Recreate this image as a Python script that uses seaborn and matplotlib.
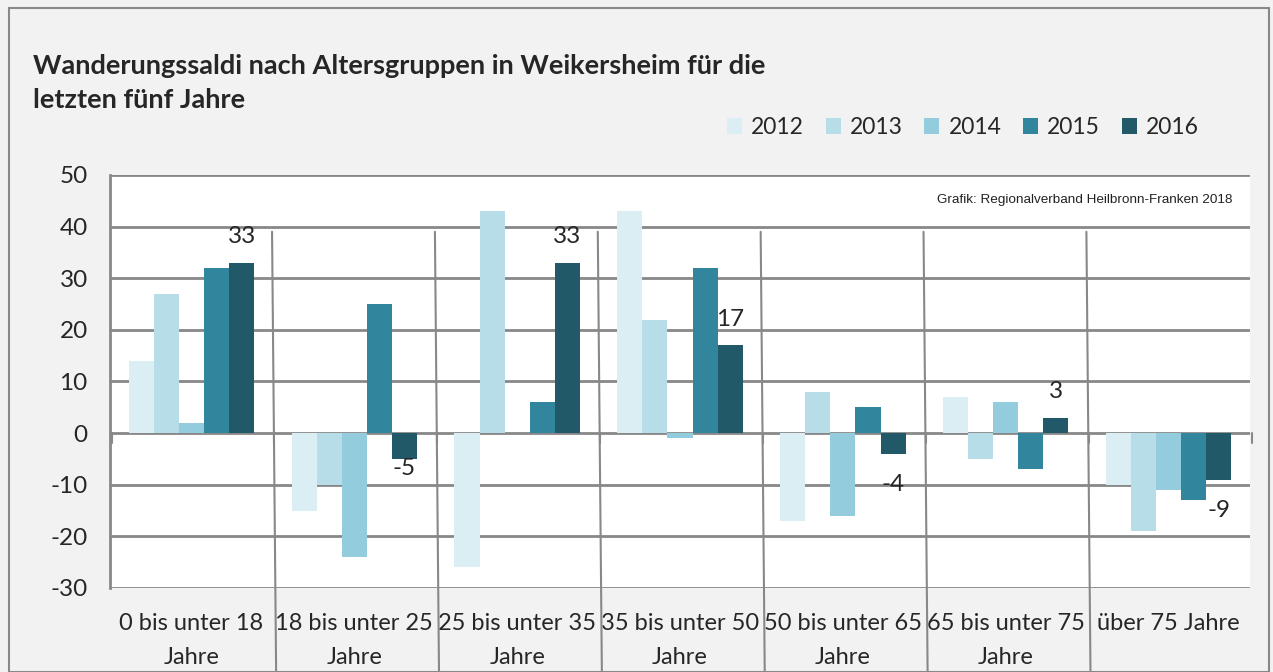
import pandas as pd
import numpy as np
import matplotlib
matplotlib.use("Agg")
import matplotlib.pyplot as plt
import seaborn as sns
from matplotlib.patches import Rectangle, Patch

# data
groups = ["0 bis unter 18\nJahre", "18 bis unter 25\nJahre", "25 bis unter 35\nJahre",
          "35 bis unter 50\nJahre", "50 bis unter 65\nJahre", "65 bis unter 75\nJahre",
          "über 75 Jahre"]
years = ["2012", "2013", "2014", "2015", "2016"]
v2012 = [14, -15, -26, 43, -17, 7, -10]
v2013 = [27, -10, 43, 22, 8, -5, -19]
v2014 = [2, -24, 0, -1, -16, 6, -11]
v2015 = [32, 25, 6, 32, 5, -7, -13]
v2016 = [33, -5, 33, 17, -4, 3, -9]
colors = ["#dbeef4", "#b7dde8", "#93cddd", "#31859c", "#215968"]
# vertical offset (px) of the 2016 value labels from the bar end
label_dy = [26, -10, 26, 26, -31, 26, -31]

rows = []
for year, vals in zip(years, [v2012, v2013, v2014, v2015, v2016]):
    for g, v in zip(groups, vals):
        rows.append({"group": g, "year": year, "value": v})
df = pd.DataFrame(rows)

sns.set_style("white")
plt.rcParams["font.family"] = ["Lato", "DejaVu Sans"]
plt.rcParams["axes.unicode_minus"] = False

fig = plt.figure(figsize=(12.73, 6.72), dpi=100, facecolor="#f2f2f2")
ax = fig.add_axes([0.0864, 0.125, 0.8956, 0.6146])
ax.set_facecolor("white")

sns.barplot(data=df, x="group", y="value", hue="year", palette=colors,
            width=0.77, saturation=1, ax=ax, legend=False, edgecolor="none")

grey = "#888888"
ax.set_ylim(-30, 50)
ax.set_xlim(-0.5, len(groups) - 0.5)
ax.set_yticks(range(-30, 51, 10))
for y in range(-30, 51, 10):
    ax.axhline(y, color=grey, lw=2, zorder=0.5)
for s in ["top", "right", "bottom"]:
    ax.spines[s].set_visible(False)
ax.spines["left"].set_color(grey)
ax.spines["left"].set_linewidth(2)
ax.tick_params(axis="y", length=7, width=1.5, color=grey, labelsize=17.5, pad=9)
ax.tick_params(axis="x", length=0, labelsize=17, pad=18)
for lab in ax.get_xticklabels():
    lab.set_linespacing(1.75)
ax.set_xlabel("")
ax.set_ylabel("")

# separators between groups
for i in range(len(groups) - 1):
    ax.plot([i + 0.495, i + 0.52], [39, -46], color=grey, lw=1.5, clip_on=False, zorder=3)
# tick marks at zero line
for i in range(len(groups) + 1):
    ax.plot([i - 0.5 + 0.01, i - 0.5 + 0.01], [0, -2], color=grey, lw=1.5, clip_on=False, zorder=3)

# labels for 2016
n = len(years)
bw = 0.77 / n
for i, v in enumerate(v2016):
    x = i - 0.77 / 2 + bw * 4.5
    ax.annotate(str(v), (x, v), xytext=(0, label_dy[i] * 0.72), textcoords="offset points",
                ha="center", va="center", fontsize=17.5)

ax.text(0.985, 0.94, "Grafik: Regionalverband Heilbronn-Franken 2018", transform=ax.transAxes,
        ha="right", va="center", fontsize=9.7, family="Liberation Sans", color="#222222")

fig.text(0.026, 0.877, "Wanderungssaldi nach Altersgruppen in Weikersheim für die\nletzten fünf Jahre",
         ha="left", va="center", fontsize=19.5, fontweight="bold", linespacing=1.5)

handles = [Patch(facecolor=c, edgecolor="none") for c in colors]
fig.legend(handles, years, loc="center right", bbox_to_anchor=(0.958, 0.81), ncol=5,
           frameon=False, fontsize=16.5, handlelength=0.65, handleheight=0.65,
           handletextpad=0.4, columnspacing=0.95)

fig.patches.append(Rectangle((0.007, 0.0), 0.99, 0.988, transform=fig.transFigure,
                             fill=False, edgecolor=grey, lw=1.5))

fig.savefig("out.png", dpi=100, facecolor=fig.get_facecolor())
